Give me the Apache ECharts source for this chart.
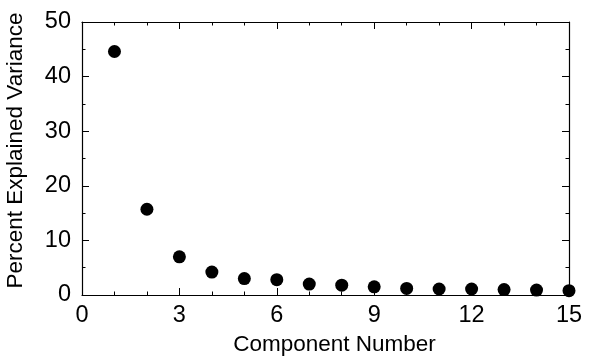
<!DOCTYPE html>
<html>
<head>
<meta charset="utf-8">
<script src="https://cdn.jsdelivr.net/npm/echarts@6/dist/echarts.min.js"></script>
<style>
  html, body { margin: 0; padding: 0; background: #fff; }
  #chart { width: 612px; height: 360px; }
</style>
</head>
<body>
<div id="chart"></div>
<script>
// Scree plot: percent explained variance per principal component
const components = [1, 2, 3, 4, 5, 6, 7, 8, 9, 10, 11, 12, 13, 14, 15]
const variance = [44.6, 15.7, 7.0, 4.2, 3.0, 2.8, 2.0, 1.8, 1.5, 1.2, 1.1, 1.1, 1.0, 0.9, 0.8]

const font = "Liberation Sans, Arial, Helvetica, sans-serif"

const chart = echarts.init(document.getElementById("chart"))

// frame axes: ticks on all four sides, labels only bottom/left
const frameAxis = (extra) => Object.assign({
  type: "value",
  axisLine: { show: true, onZero: false, lineStyle: { color: "#000", width: 1.2 } },
  axisTick: { show: true, inside: true, length: 7, lineStyle: { color: "#000" } },
  minorTick: { show: true, length: 3.5, lineStyle: { color: "#000" } },
  splitLine: { show: false },
  minorSplitLine: { show: false },
  axisLabel: { show: false }
}, extra)

const labelStyle = { show: true, color: "#000", fontFamily: font, fontSize: 23.5 }
const titleStyle = { color: "#000", fontFamily: font, fontSize: 22.5 }

chart.setOption({
  animation: false,
  grid: { left: 82, right: 43, top: 22, bottom: 65, outerBoundsMode: "none" },
  xAxis: [
    frameAxis({
      min: 0, max: 15, interval: 3,
      minorTick: { show: true, splitNumber: 3, length: 3.5, lineStyle: { color: "#000" } },
      axisLabel: Object.assign({}, labelStyle, { margin: 9 }),
      name: "Component Number",
      nameLocation: "middle",
      nameGap: 37,
      nameTextStyle: Object.assign({}, titleStyle, { padding: [0, 0, 0, 18] })
    }),
    frameAxis({
      position: "top",
      min: 0, max: 15, interval: 3,
      minorTick: { show: true, splitNumber: 3, length: 3.5, lineStyle: { color: "#000" } }
    })
  ],
  yAxis: [
    frameAxis({
      min: 0, max: 50, interval: 10,
      minorTick: { show: true, splitNumber: 2, length: 3.5, lineStyle: { color: "#000" } },
      axisLabel: Object.assign({}, labelStyle, { margin: 11 }),
      name: "Percent Explained Variance",
      nameLocation: "middle",
      nameGap: 55,
      nameTextStyle: Object.assign({}, titleStyle, { padding: [0, 0, 0, 16] })
    }),
    frameAxis({
      position: "right",
      min: 0, max: 50, interval: 10,
      minorTick: { show: true, splitNumber: 2, length: 3.5, lineStyle: { color: "#000" } }
    })
  ],
  series: [
    {
      type: "scatter",
      data: components.map((c, i) => [c, variance[i]]),
      symbol: "circle",
      symbolSize: 13,
      itemStyle: { color: "#000", opacity: 1 }
    }
  ]
})
</script>
</body>
</html>
